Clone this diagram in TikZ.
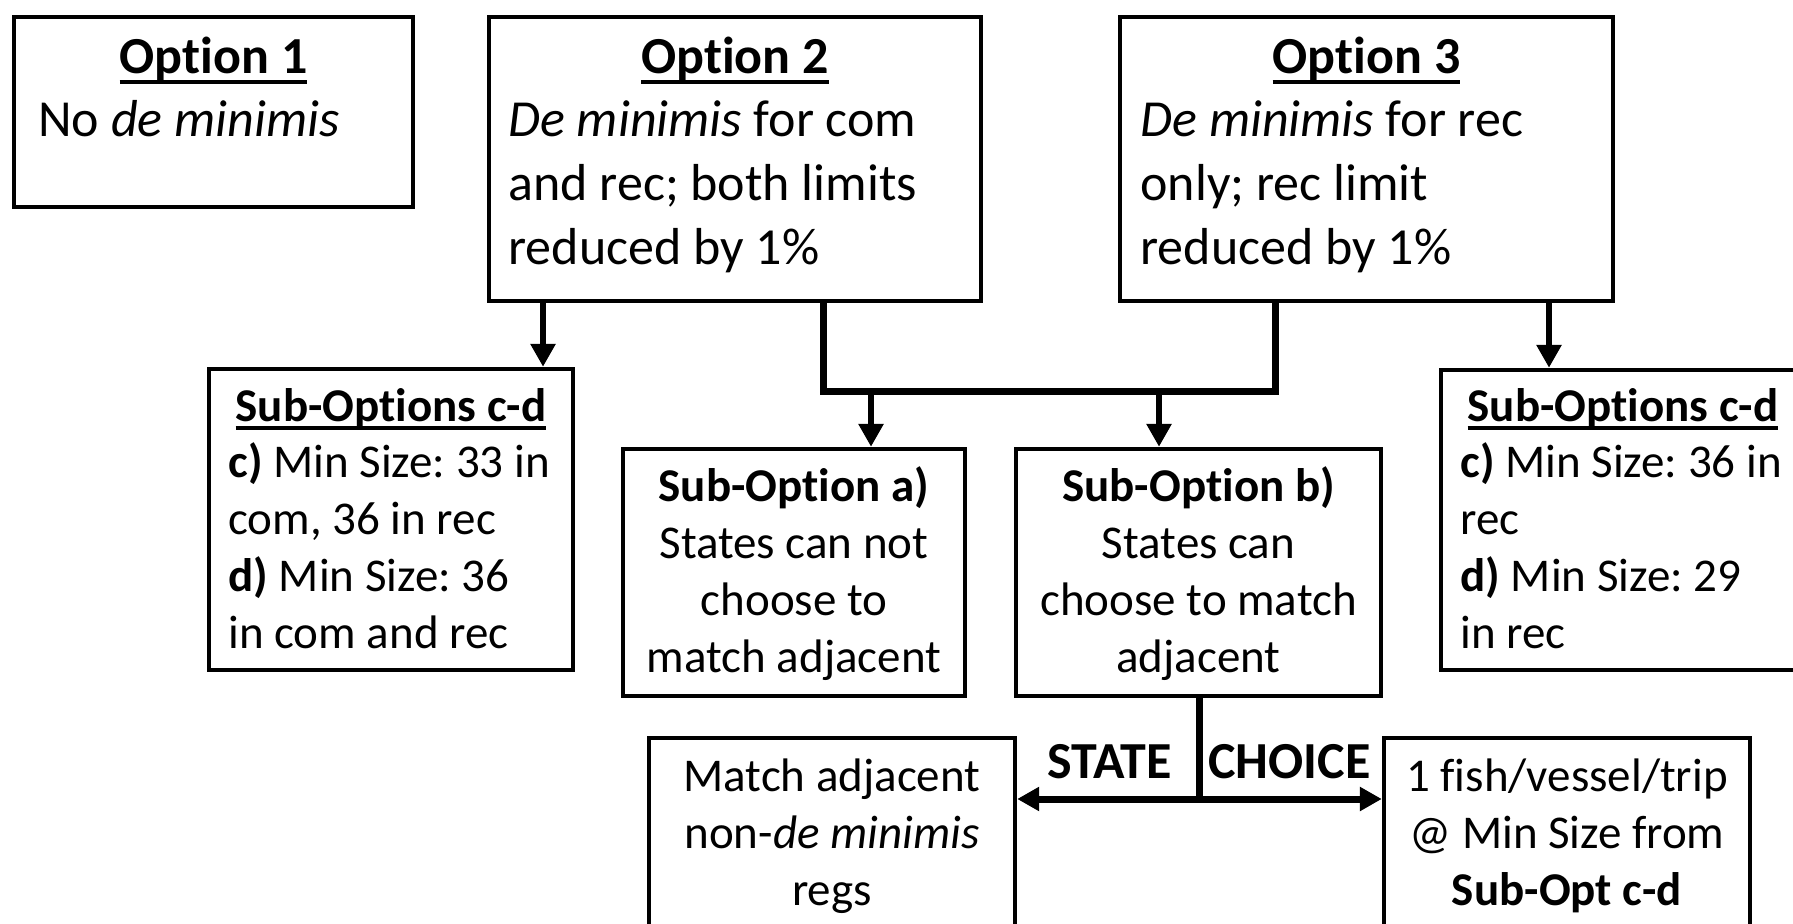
\documentclass[tikz,border=0pt]{standalone}
\usepackage{fontspec}
\setmainfont{Carlito}[Ligatures=NoCommon]
\frenchspacing
\usetikzlibrary{arrows.meta}
\newsavebox\ulbox
\newcommand\hul[2][-5pt]{\sbox\ulbox{#2}\rlap{\rule[#1]{\wd\ulbox}{2pt}}\usebox\ulbox}
\newcommand\Lleft[1]{\vtop{\halign{##\hfil\cr#1\crcr}}}
\newcommand\Lcent[1]{\vtop{\halign{\hfil##\hfil\cr#1\crcr}}}
\begin{document}
\begin{tikzpicture}[x=0.5pt,y=-0.5pt,
  box/.style={draw, line width=2.2pt, inner sep=0pt},
  big/.style={font=\fontsize{26pt}{32pt}\selectfont, inner sep=0pt},
  small/.style={font=\fontsize{23.5pt}{28.5pt}\selectfont, inner sep=0pt},
  link/.style={line width=3.5pt},
  arr/.style={line width=3pt, -{Triangle[length=11.5pt,width=12pt]}},
  darr/.style={line width=3.5pt, {Triangle[length=11pt,width=11.5pt]}-{Triangle[length=11pt,width=11.5pt]}},
]
\useasboundingbox (0,0) rectangle (1793,924);
\clip (0,0) rectangle (1793,924);

% boxes
\node[box, minimum width=199.5pt, minimum height=95pt] (o1) at (213.5,112) {};
\node[box, minimum width=246pt, minimum height=142pt] (o2) at (735,159) {};
\node[box, minimum width=246.5pt, minimum height=142pt] (o3) at (1366.5,159) {};
\node[box, minimum width=182pt, minimum height=150.5pt] (cdl) at (391,519.5) {};
\node[box, minimum width=182pt, minimum height=150pt] (cdr) at (1623,520) {};
\node[box, minimum width=171pt, minimum height=123.5pt] (sa) at (794,572.5) {};
\node[box, minimum width=182.5pt, minimum height=123.5pt] (sb) at (1198.5,572.5) {};
\node[box, minimum width=183pt, minimum height=110pt] (ma) at (832,848) {};
\node[box, minimum width=183pt, minimum height=110pt] (fi) at (1567,848) {};

% texts
\node[big, anchor=base] (t1h) at (213.5,74) {\hul{\textbf{Option 1}}};
\node[big, anchor=base west] (t1b) at (38,137) {No \textit{de minimis}};
\node[big, anchor=base] (t2h) at (735,74) {\hul{\textbf{Option 2}}};
\node[big, anchor=base west] (t2b) at (508,137) {\Lleft{\textit{De minimis} for com\cr and rec; both limits\cr reduced by 1\%}};
\node[big, anchor=base] (t3h) at (1366.5,74) {\hul{\textbf{Option 3}}};
\node[big, anchor=base west] (t3b) at (1140,137) {\Lleft{\textit{De minimis} for rec\cr only; rec limit\cr reduced by 1\%}};

\node[small, anchor=base] (cdlh) at (391,422) {\hul[-4pt]{\textbf{Sub-Options c-d}}};
\node[small, anchor=base west] (cdlb) at (228,478) {\Lleft{\textbf{c)} Min Size: 33 in\cr com, 36 in rec\cr \textbf{d)} Min Size: 36\cr in com and rec}};
\node[small, anchor=base] (cdrh) at (1623,422) {\hul[-4pt]{\textbf{Sub-Options c-d}}};
\node[small, anchor=base west] (cdrb) at (1460,478) {\Lleft{\textbf{c)} Min Size: 36 in\cr rec\cr \textbf{d)} Min Size: 29\cr in rec}};

\node[small, anchor=base] (sat) at (794,502) {\Lcent{\textbf{Sub-Option a)}\cr States can not\cr choose to\cr match adjacent}};
\node[small, anchor=base] (sbt) at (1198.5,502) {\Lcent{\textbf{Sub-Option b)}\cr States can\cr choose to match\cr adjacent}};
\node[small, anchor=base] (mat) at (832,791) {\Lcent{Match adjacent\cr non-\textit{de minimis}\cr regs}};
\node[small, anchor=base] (fit) at (1567,791) {\Lcent{1 fish/vessel/trip\cr @ Min Size from\cr \textbf{Sub-Opt c-d}}};

\node[big, anchor=base west] (st) at (1047,778) {\textbf{STATE}};
\node[big, anchor=base west] (ch) at (1208,778) {\textbf{CHOICE}};

% connectors
\coordinate (j1) at (823,392);
\coordinate (j2) at (1275,392);
\coordinate (la) at (543,0);
\coordinate (ra) at (1549,0);
\coordinate (ta) at (871,392);
\coordinate (tb) at (1159,392);
\coordinate (hb) at (1199,799);

\draw[link, line join=miter] (o2.south -| j1) -- (j1) -- (j2) -- (o3.south -| j2);
\draw[arr] (o2.south -| la) -- (cdl.north -| la);
\draw[arr] (o3.south -| ra) -- (cdr.north -| ra);
\draw[arr] (ta) -- (sa.north -| ta);
\draw[arr] (tb) -- (sb.north -| tb);
\draw[link] (sb.south -| hb) -- (hb);
\draw[darr] (ma.east |- hb) -- (fi.west |- hb);
\end{tikzpicture}
\end{document}
